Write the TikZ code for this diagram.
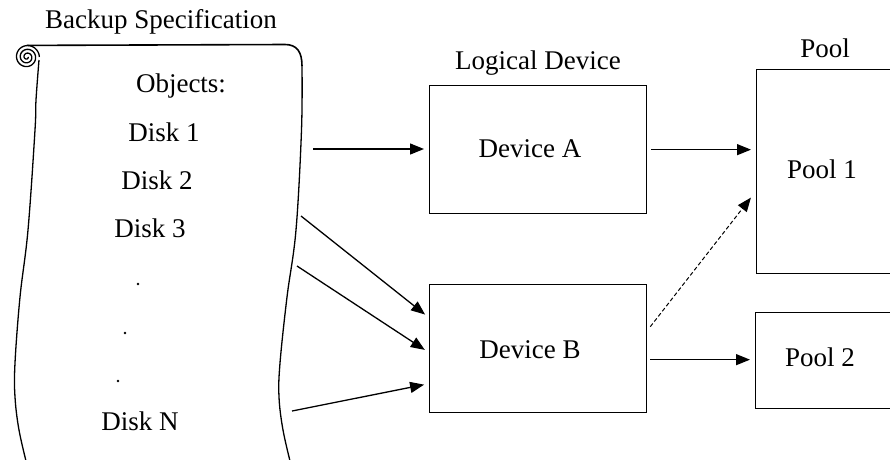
\documentclass[tikz,border=0pt]{standalone}
\usepackage{fontspec}
\setmainfont{Liberation Serif}
\usetikzlibrary{arrows.meta,calc}
\begin{document}
\begin{tikzpicture}[x=1pt,y=-1pt,
  line width=1.3pt,
  every node/.style={font=\fontsize{27}{32}\selectfont, inner sep=0pt},
  lbl/.style={anchor=base},
  boxnode/.style={draw, line width=1.3pt, anchor=north west},
  arr/.style={-{Stealth[length=14pt,width=11pt,inset=0pt]}, shorten >=5pt},
  dsh/.style={arr, dashed, dash pattern=on 4pt off 2.5pt, line width=1pt}]
\useasboundingbox (0,0) rectangle (890,459);
\clip (0,0) rectangle (890,459);
\fill[white] (0,0) rectangle (890,459);

% scroll
\draw plot[domain=0:1080,samples=200,variable=\t] ({27+(1+\t/95)*cos(\t)},{57+(1+\t/95)*sin(\t)});
\draw[line width=1.6pt] (27,45.4) -- (285,44.5) .. controls (297,44.5) and (302,52) .. (302,66);
\draw plot[smooth,tension=0.6] coordinates {(302,66) (301.5,130) (296,230) (287,297) (280,363) (279,397) (283,430) (291,465)};
\draw plot[smooth,tension=0.6] coordinates {(39,60) (36,100) (35,130) (28,230) (20,297) (15,363) (15,397) (19,430) (27,465)};

% texts
\node[lbl] (title) at (161,28) {Backup Specification};
\node[lbl] (objs) at (181,92) {Objects:};
\node[lbl] (d1) at (164,141) {Disk 1};
\node[lbl] (d2) at (157,189) {Disk 2};
\node[lbl] (d3) at (150,237) {Disk 3};
\fill (138,284) circle (1.4);
\fill (125,333) circle (1.4);
\fill (118,381) circle (1.4);
\node[lbl] (dn) at (140,430) {Disk N};

\node[lbl] (ldl) at (538,69) {Logical Device};
\node[lbl] (pl) at (825,57) {Pool};

% boxes
\node[boxnode, minimum width=217pt, minimum height=128pt] (devA) at (429,85) {};
\node[boxnode, minimum width=217pt, minimum height=128pt] (devB) at (429,284) {};
\node[boxnode, minimum width=250pt, minimum height=204pt] (pool1) at (756,69) {};
\node[boxnode, minimum width=250pt, minimum height=96pt] (pool2) at (755,312) {};

\node[lbl] at (530,157) {Device A};
\node[lbl] at (530,358) {Device B};
\node[lbl] at (822,178) {Pool 1};
\node[lbl] at (820,366) {Pool 2};

% connector start points
\coordinate (s1) at (313,149);
\coordinate (s2) at (301,216);
\coordinate (s3) at (297,266);
\coordinate (s4) at (292,411);

\draw[arr] (s1) -- (devA.west |- s1);
\draw[arr] (s2) -- ($(devB.west)+(0,-31)$);
\draw[arr] (s3) -- ($(devB.west)+(0,4)$);
\draw[arr] (s4) -- ($(devB.west)+(0,35)$);

\draw[arr] ($(devA.east)+(4,0)$) -- (pool1.west |- devA.east);
\draw[dsh] ($(devB.east)+(3,-22)$) -- ($(pool1.west)+(-2,22)$);
\draw[arr] ($(devB.east)+(3,11)$) -- ($(pool2.west)+(0,-1)$);
\end{tikzpicture}
\end{document}
